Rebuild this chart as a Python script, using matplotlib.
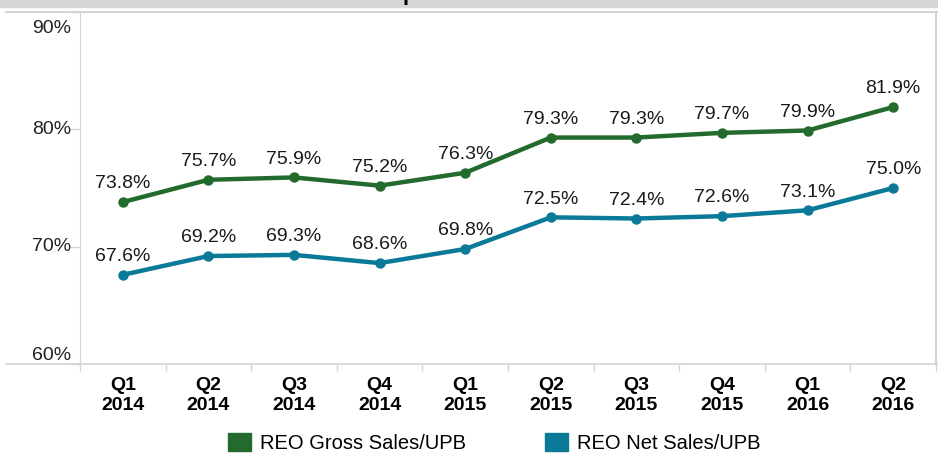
import matplotlib
matplotlib.use('Agg')
import matplotlib.pyplot as plt
import numpy as np
from matplotlib.patches import Patch
from matplotlib.lines import Line2D

plt.rcParams['font.family'] = ['Liberation Sans', 'DejaVu Sans']

quarters = ['Q1\n2014', 'Q2\n2014', 'Q3\n2014', 'Q4\n2014', 'Q1\n2015',
            'Q2\n2015', 'Q3\n2015', 'Q4\n2015', 'Q1\n2016', 'Q2\n2016']
gross = [73.8, 75.7, 75.9, 75.2, 76.3, 79.3, 79.3, 79.7, 79.9, 81.9]
net = [67.6, 69.2, 69.3, 68.6, 69.8, 72.5, 72.4, 72.6, 73.1, 75.0]
series_names = ['REO Gross Sales/UPB', 'REO Net Sales/UPB']
yticks = [60, 70, 80, 90]

GREEN = '#236B2D'
TEAL = '#0B7A99'
GRID = '#d4d4d4'

W, H = 938, 453
fig = plt.figure(figsize=(W / 100, H / 100), dpi=100)
ax = fig.add_axes([80 / W, (H - 364) / H, (936 - 80) / W, (364 - 12) / H])

x = np.arange(len(quarters))
for vals, col in [(gross, GREEN), (net, TEAL)]:
    ax.plot(x, vals, color=col, lw=3.2, marker='o', ms=6.5, solid_capstyle='round', zorder=3)
    for xi, v in zip(x, vals):
        ax.annotate('%.1f%%' % v, (xi, v), xytext=(0, 7), textcoords='offset points',
                    ha='center', va='bottom', fontsize=14, color='#1a1a1a')

ax.set_xlim(-0.5, len(quarters) - 0.5)
ax.set_ylim(60, 90)

for s in ['top', 'right']:
    ax.spines[s].set_visible(False)
ax.spines['left'].set_color(GRID)
ax.spines['bottom'].set_visible(False)

# y ticks
ax.set_yticks(yticks)
ax.set_yticklabels([])
ax.tick_params(axis='y', length=7, color=GRID, width=1)
for t in yticks:
    va = 'center'
    dy = 0
    if t == yticks[0]:
        va = 'bottom'
    elif t == yticks[-1]:
        va = 'top'
        dy = -0.7
    ax.text(-0.6, t + dy, '%d%%' % t, ha='right', va=va, fontsize=14, color='#222222')

# x ticks
ax.set_xticks(x)
ax.set_xticklabels(quarters, fontweight='bold', fontsize=14, linespacing=1.3)
ax.set_xticks(np.arange(len(quarters) + 1) - 0.5, minor=True)
ax.tick_params(axis='x', which='major', length=0, pad=9)
ax.tick_params(axis='x', which='minor', length=5, color=GRID, width=1)

# frame lines
fig.add_artist(Line2D([6 / W, 1], [(H - 364) / H] * 2, color=GRID, lw=1.2))
fig.add_artist(Line2D([6 / W, 1], [(H - 11.5) / H] * 2, color=GRID, lw=1.5))
fig.add_artist(Line2D([936 / W] * 2, [(H - 364) / H, (H - 11.5) / H], color=GRID, lw=1.5))

# header bar with cut-off title
fig.add_artist(plt.Rectangle((0, (H - 7) / H), 1, 7 / H, color='#d6d6d6', transform=fig.transFigure))
fig.text(409 / W, 1 + 0.5 / H, 'p', ha='center', va='baseline', fontsize=16, fontweight='bold')

handles = [Patch(color=GREEN), Patch(color=TEAL)]
fig.legend(handles, series_names, loc='lower left', bbox_to_anchor=(212 / W, -0.035),
           ncol=2, frameon=False, fontsize=14.5, handlelength=1.15, handleheight=1.0,
           handletextpad=0.45, columnspacing=3.9, borderpad=0.3)

plt.savefig('out.png', dpi=100)
